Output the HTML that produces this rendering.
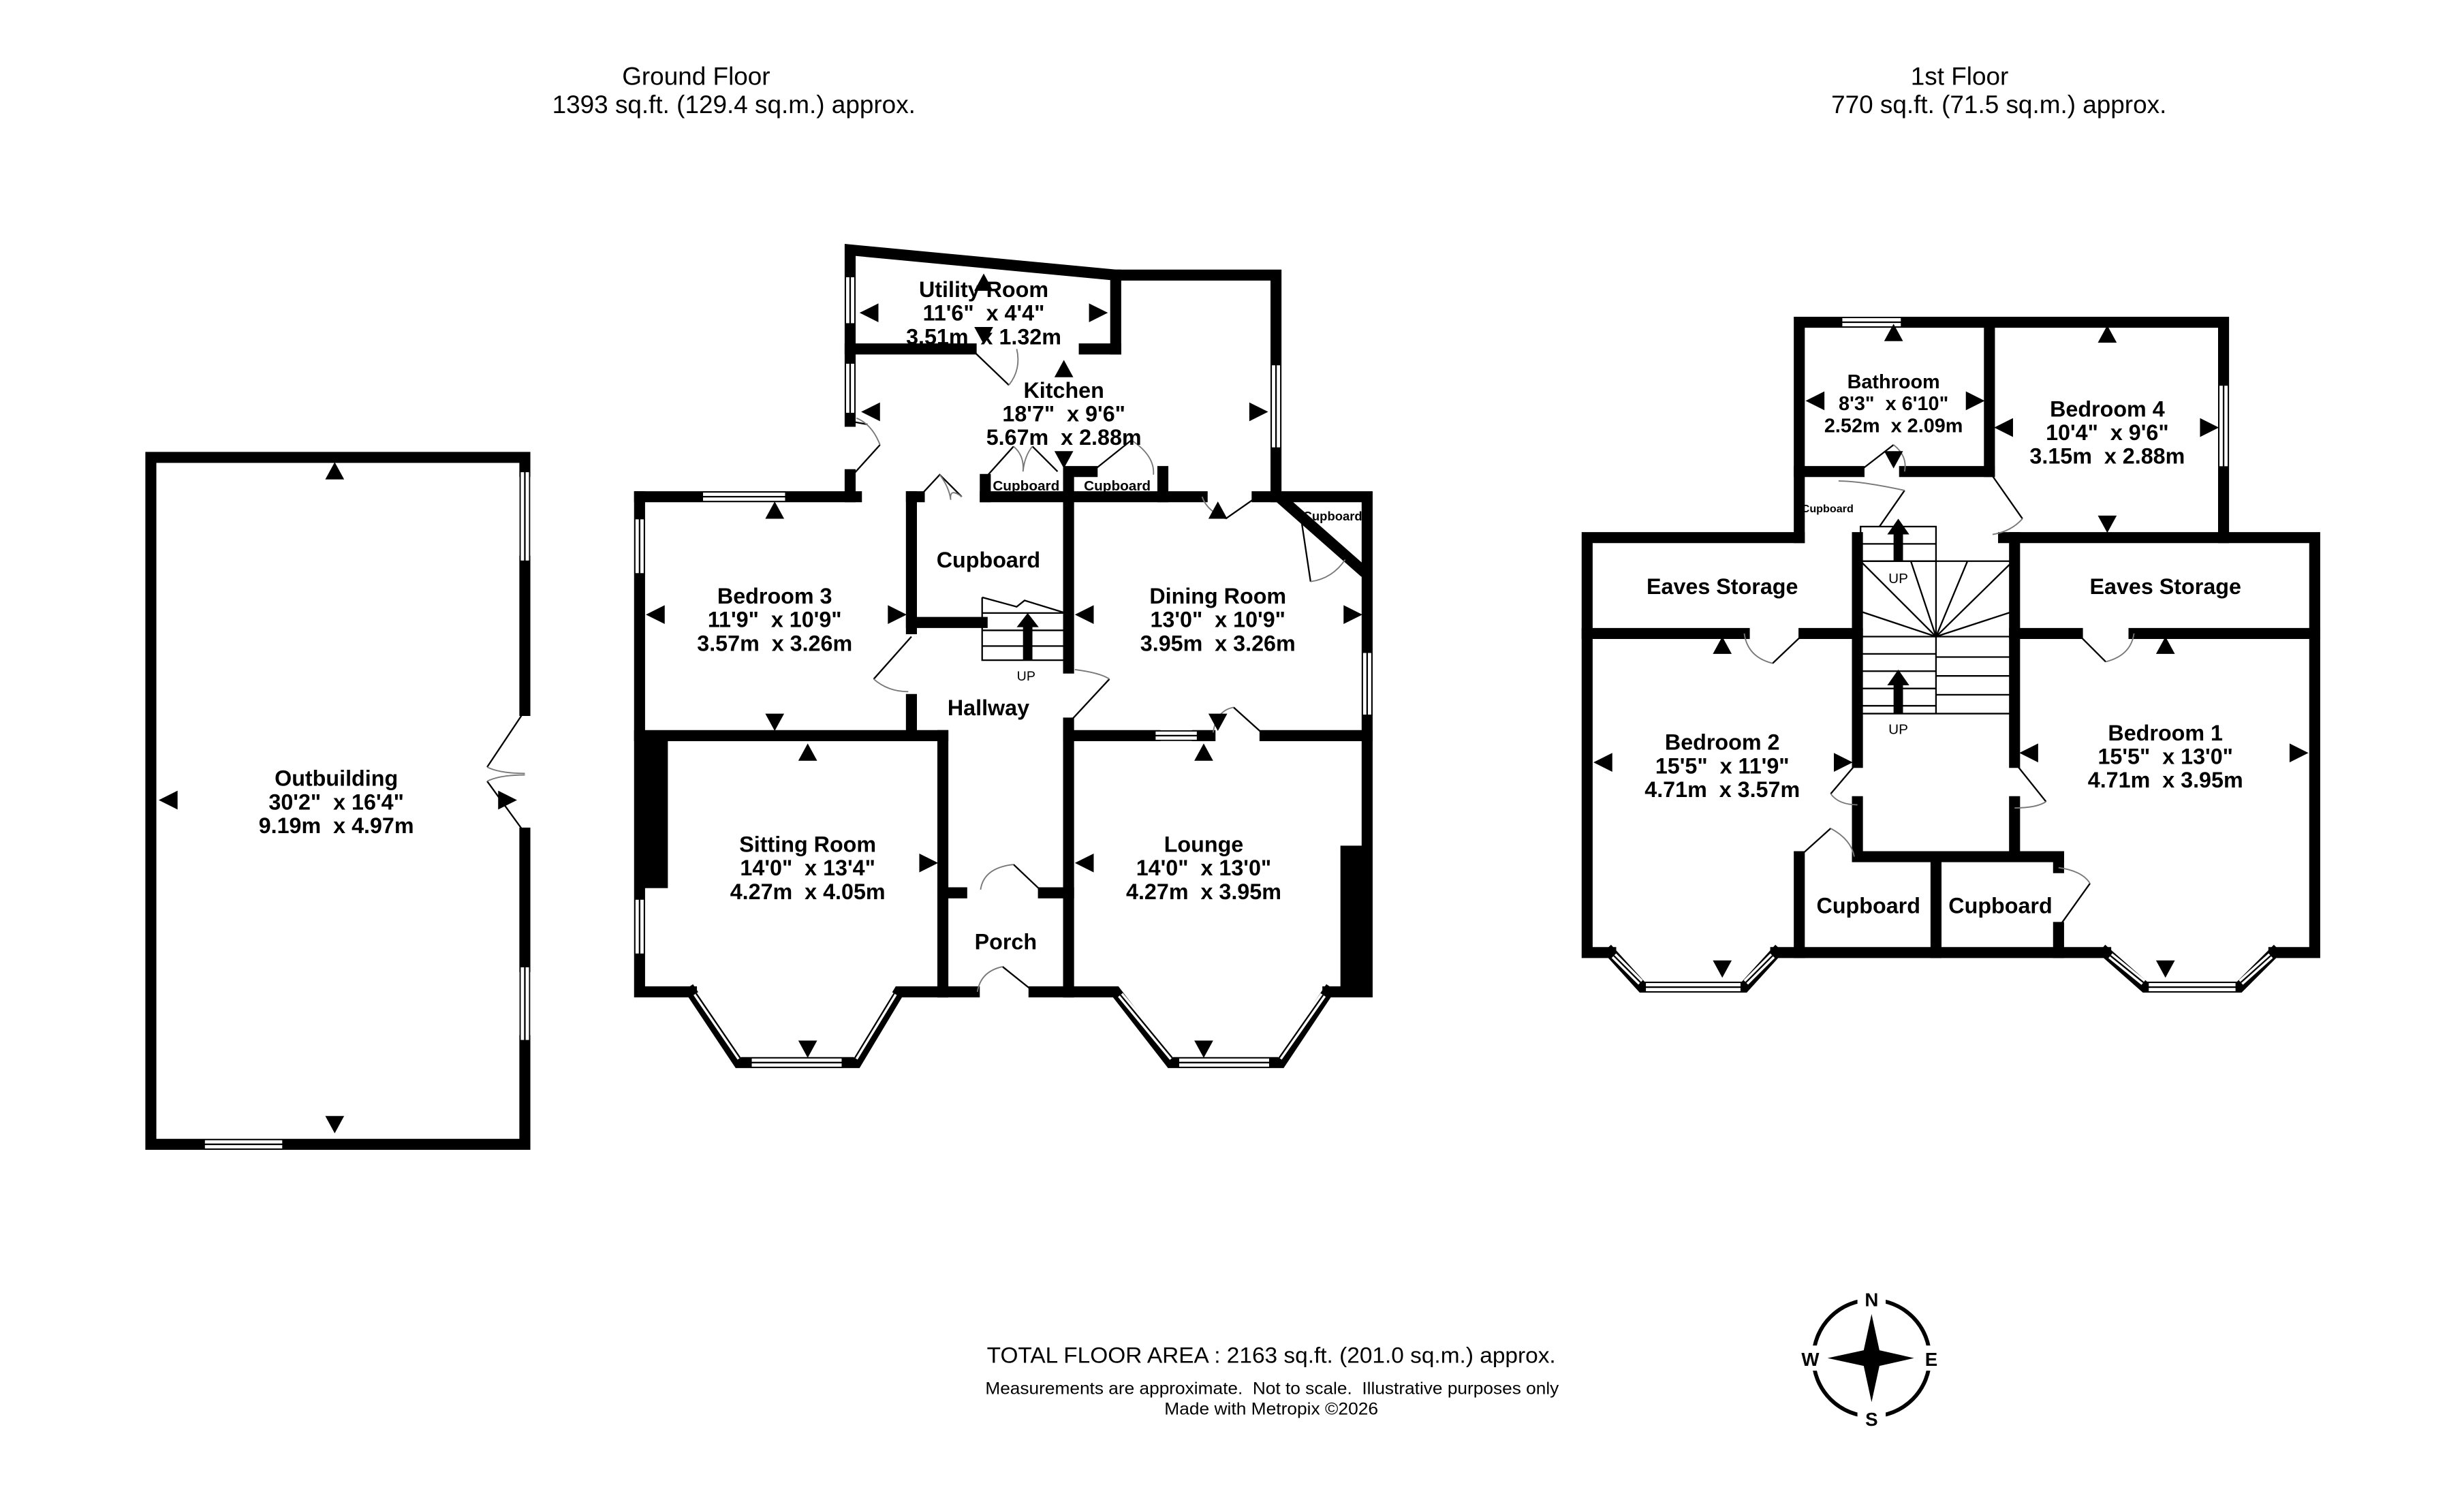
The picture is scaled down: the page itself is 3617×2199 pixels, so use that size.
<!DOCTYPE html>
<html><head><meta charset="utf-8"><style>
html,body{margin:0;padding:0;background:#fff;}
svg{display:block;}
text{font-family:"Liberation Sans",sans-serif;fill:#000;white-space:pre;}
.r{font-weight:bold;font-size:14px;text-anchor:middle;}
.s{font-weight:bold;font-size:9px;text-anchor:middle;}
.w{stroke:#000;stroke-width:7;fill:none;stroke-linecap:square;}
.t{stroke:#000;stroke-width:1;fill:none;}
.a{stroke:#777;stroke-width:0.8;fill:none;}
.win{fill:#fff;stroke:#000;stroke-width:0.8;}
</style></head><body>
<svg width="3617" height="2199" viewBox="0 0 1568 953" preserveAspectRatio="none" xmlns="http://www.w3.org/2000/svg" xml:space="preserve">
<rect width="1568" height="953" fill="#fff"/>
<g font-size="16" text-anchor="middle">
<text x="443" y="54">Ground Floor</text>
<text x="467" y="72">1393 sq.ft. (129.4 sq.m.) approx.</text>
<text x="1247" y="54">1st Floor</text>
<text x="1272" y="72">770 sq.ft. (71.5 sq.m.) approx.</text>
</g>

<!-- OUTBUILDING -->
<path class="w" d="M334,300 L334,291 L96,291 L96,728 L334,728 L334,662"/>
<line class="w" x1="334" y1="357" x2="334" y2="452"/>
<line class="w" x1="334" y1="530" x2="334" y2="615"/>
<rect class="win" x="331" y="300" width="6" height="57"/><line class="t" x1="334" y1="300" x2="334" y2="357"/>
<rect class="win" x="331" y="615" width="6" height="47"/><line class="t" x1="334" y1="615" x2="334" y2="662"/>
<rect class="win" x="130" y="725" width="50" height="6"/><line class="t" x1="130" y1="728" x2="180" y2="728"/>
<path class="t" d="M334,452 L310,488 M334,530 L310,497"/>
<path class="a" d="M310,488 Q318,492 334,492 M310,497 Q318,493 334,493"/>
<polygon points="207,305 219,305 213,294"/>
<polygon points="207,710 219,710 213,721"/>
<polygon points="101,509 113,503 113,515"/>
<polygon points="329,509 317,503 317,515"/>
<text class="r" x="214" y="500">Outbuilding</text>
<text class="r" x="214" y="515">30'2"  x 16'4"</text>
<text class="r" x="214" y="530">9.19m  x 4.97m</text>

<!-- GROUND FLOOR MAIN -->
<path class="w" d="M541,268 L541,159 L710,175 L812,175 L812,316 L870,316 L870,631 L845,631"/>
<line class="w" x1="541" y1="302" x2="541" y2="316"/>
<line class="w" x1="710" y1="175" x2="710" y2="222"/>
<path class="w" d="M541,222 L618,222 M690,222 L710,222"/>
<rect class="win" x="538" y="176" width="6" height="30"/><line class="t" x1="541" y1="176" x2="541" y2="206"/>
<rect class="win" x="538" y="231" width="6" height="32"/><line class="t" x1="541" y1="231" x2="541" y2="263"/>
<rect class="win" x="809" y="232" width="6" height="53"/><line class="t" x1="812" y1="232" x2="812" y2="285"/>
<path class="t" d="M618,222 L642,245"/><path class="a" d="M642,245 Q650,235 647,222"/>
<path class="t" d="M541,268 L552,270 M560,283 L541,304"/><path class="a" d="M545,266 Q555,270 560,283"/>
<path class="w" d="M407,316 L545,316 M580,316 L585,316 M627,316 L680,316 M680,316 L740,316 M740,316 L765,316 M800,316 L812,316"/>
<path class="w" d="M627,316 L627,305 M740,316 L740,300 M680,316 L680,300 L695,300"/>
<path class="t" d="M585,316 L598,302 L612,316 M627,304 L645,284 M673,300 L657,284 M695,300 L720,280"/>
<path class="a" d="M598,302 Q604,310 605,318 M612,316 Q604,310 605,318 M645,284 Q652,290 651,300 M657,284 Q652,290 651,300 M720,280 Q735,290 734,302"/>
<path class="t" d="M800,316 L780,330"/><path class="a" d="M765,316 Q768,325 780,330"/>
<path class="w" d="M816,318 L866,362"/>
<path class="t" d="M828,330 L834,370"/><path class="a" d="M834,370 Q848,368 856,356"/>
<rect class="win" x="867" y="415" width="6" height="40"/><line class="t" x1="870" y1="415" x2="870" y2="455"/>
<path class="w" d="M407,316 L407,631 L440,631"/>
<rect x="407" y="470" width="18" height="95" fill="#000"/>
<rect class="win" x="404" y="330" width="6" height="35"/><line class="t" x1="407" y1="330" x2="407" y2="365"/>
<rect class="win" x="404" y="572" width="6" height="35"/><line class="t" x1="407" y1="572" x2="407" y2="607"/>
<rect class="win" x="447" y="313" width="53" height="6"/><line class="t" x1="447" y1="316" x2="500" y2="316"/>
<line class="w" x1="407" y1="468" x2="600" y2="468"/>
<line class="w" x1="580" y1="316" x2="580" y2="400"/>
<line class="w" x1="580" y1="445" x2="580" y2="468"/>
<line class="w" x1="580" y1="396" x2="625" y2="396"/>
<path class="t" d="M580,405 L556,432"/><path class="a" d="M556,432 Q565,440 578,440"/>
<line class="w" x1="600" y1="468" x2="600" y2="631"/>
<path class="w" d="M440,631 L470,676 L545,676 L572,631 L600,631"/>
<path d="M443,632 L471,673 M569,632 L544,673" stroke="#fff" stroke-width="4" fill="none"/>
<path d="M443,632 L471,673 M569,632 L544,673" class="t" stroke-width="0.6"/>
<rect class="win" x="478" y="673" width="58" height="6"/><line class="t" x1="478" y1="676" x2="536" y2="676"/>
<path class="w" d="M600,568 L612,568 M664,568 L680,568 M600,631 L620,631 M658,631 L680,631"/>
<path class="t" d="M664,568 L645,550 M658,631 L638,615"/>
<path class="a" d="M645,550 Q626,552 624,566 M638,615 Q624,618 622,631"/>
<line class="w" x1="680" y1="316" x2="680" y2="425"/>
<line class="w" x1="680" y1="460" x2="680" y2="631"/>
<path class="t" d="M680,460 L706,432"/><path class="a" d="M684,426 Q700,428 706,432"/>
<path class="w" d="M680,468 L735,468 M762,468 L770,468 M805,468 L870,468"/>
<rect class="win" x="735" y="465" width="27" height="6"/><line class="t" x1="735" y1="468" x2="762" y2="468"/>
<path class="t" d="M805,468 L785,450"/><path class="a" d="M785,450 Q774,452 772,466"/>
<rect x="853" y="538" width="14" height="90" fill="#000"/>
<path class="w" d="M680,631 L710,631 L745,676 L815,676 L845,631"/>
<path d="M713,633 L746,673 M842,633 L814,673" stroke="#fff" stroke-width="4" fill="none"/>
<path d="M713,633 L746,673 M842,633 L814,673" class="t" stroke-width="0.6"/>
<rect class="win" x="750" y="673" width="58" height="6"/><line class="t" x1="750" y1="676" x2="808" y2="676"/>
<path class="t" d="M625,380 L647,386 L652,382 L678,390 M625,380 L625,420 L678,420 M625,390 L678,390 M625,401 L678,401 M625,411 L678,411"/>
<polygon points="651,420 651,399 647,399 654,390 661,399 657,399 657,420"/>
<text x="653" y="433" font-size="8.5" text-anchor="middle">UP</text>
<g>
<polygon points="620,185 632,185 626,174"/><polygon points="620,208 632,208 626,219"/>
<polygon points="547,199 559,193 559,205"/><polygon points="705,199 693,193 693,205"/>
<polygon points="671,240 683,240 677,229"/><polygon points="671,287 683,287 677,298"/>
<polygon points="548,262 560,256 560,268"/><polygon points="807,262 795,256 795,268"/>
<polygon points="487,330 499,330 493,319"/><polygon points="487,454 499,454 493,465"/>
<polygon points="411,391 423,385 423,397"/><polygon points="577,391 565,385 565,397"/>
<polygon points="508,484 520,484 514,473"/><polygon points="508,662 520,662 514,673"/>
<polygon points="597,549 585,543 585,555"/>
<polygon points="769,330 781,330 775,319"/><polygon points="769,454 781,454 775,465"/>
<polygon points="684,391 696,385 696,397"/><polygon points="867,391 855,385 855,397"/>
<polygon points="760,484 772,484 766,473"/><polygon points="760,662 772,662 766,673"/>
<polygon points="684,549 696,543 696,555"/>
</g>
<text class="r" x="626" y="189">Utility Room</text>
<text class="r" x="626" y="204">11'6"  x 4'4"</text>
<text class="r" x="626" y="219">3.51m  x 1.32m</text>
<text class="r" x="677" y="253">Kitchen</text>
<text class="r" x="677" y="268">18'7"  x 9'6"</text>
<text class="r" x="677" y="283">5.67m  x 2.88m</text>
<text class="s" x="653" y="312">Cupboard</text>
<text class="s" x="711" y="312">Cupboard</text>
<text x="848" y="331" font-size="8" font-weight="bold" text-anchor="middle">Cupboard</text>
<text class="r" x="629" y="361">Cupboard</text>
<text class="r" x="493" y="384">Bedroom 3</text>
<text class="r" x="493" y="399">11'9"  x 10'9"</text>
<text class="r" x="493" y="414">3.57m  x 3.26m</text>
<text class="r" x="775" y="384">Dining Room</text>
<text class="r" x="775" y="399">13'0"  x 10'9"</text>
<text class="r" x="775" y="414">3.95m  x 3.26m</text>
<text class="r" x="629" y="455">Hallway</text>
<text class="r" x="514" y="542">Sitting Room</text>
<text class="r" x="514" y="557">14'0"  x 13'4"</text>
<text class="r" x="514" y="572">4.27m  x 4.05m</text>
<text class="r" x="766" y="542">Lounge</text>
<text class="r" x="766" y="557">14'0"  x 13'0"</text>
<text class="r" x="766" y="572">4.27m  x 3.95m</text>
<text class="r" x="640" y="604">Porch</text>

<!-- FIRST FLOOR -->
<path class="w" d="M1145,342 L1145,205 L1415,205 L1415,342 L1473,342 L1473,606 L1447,606"/>
<path class="w" d="M1145,342 L1010,342 L1010,606 L1025,606"/>
<rect class="win" x="1172" y="202" width="38" height="6"/><line class="t" x1="1172" y1="205" x2="1210" y2="205"/>
<rect class="win" x="1412" y="245" width="6" height="52"/><line class="t" x1="1415" y1="245" x2="1415" y2="297"/>
<line class="w" x1="1266" y1="205" x2="1266" y2="300"/>
<path class="w" d="M1145,300 L1183,300 M1212,300 L1266,300"/>
<path class="w" d="M1275,342 L1415,342"/>
<path class="t" d="M1183,300 L1205,283 M1266,300 L1287,330 M1212,312 L1196,335"/>
<path class="a" d="M1205,283 Q1214,290 1212,300 M1287,330 Q1280,338 1268,340 M1170,306 Q1184,306 1212,312"/>
<path class="w" d="M1010,403 L1110,403 M1148,403 L1182,403 M1282,403 L1322,403 M1358,403 L1473,403"/>
<path class="t" d="M1148,403 L1128,422 M1322,403 L1340,421"/>
<path class="a" d="M1110,403 Q1112,418 1128,422 M1358,403 Q1356,417 1340,421"/>
<path class="w" d="M1182,342 L1182,485 M1182,510 L1182,545 L1310,545 M1282,342 L1282,485 M1282,510 L1282,545"/>
<path class="t" d="M1182,485 L1165,505 M1282,485 L1302,510"/>
<path class="a" d="M1165,505 Q1170,512 1182,512 M1302,510 Q1296,514 1282,514"/>
<path class="w" d="M1145,545 L1145,606 M1232,545 L1232,606 M1310,545 L1310,552 M1310,590 L1310,606"/>
<path class="t" d="M1145,545 L1165,527 M1310,590 L1330,562"/>
<path class="a" d="M1165,527 Q1178,534 1180,545 M1310,552 Q1325,554 1330,562"/>
<path class="w" d="M1130,606 L1340,606"/>
<path class="w" d="M1025,606 L1045,628 L1110,628 L1130,606"/>
<path class="w" d="M1340,606 L1365,628 L1425,628 L1447,606"/>
<path d="M1027,608 L1044,625 M1128,608 L1111,625 M1343,608 L1364,625 M1445,608 L1426,625" stroke="#fff" stroke-width="4" fill="none"/>
<path d="M1027,608 L1044,625 M1128,608 L1111,625 M1343,608 L1364,625 M1445,608 L1426,625" class="t" stroke-width="0.6"/>
<rect class="win" x="1047" y="625" width="61" height="6"/><line class="t" x1="1047" y1="628" x2="1108" y2="628"/>
<rect class="win" x="1367" y="625" width="56" height="6"/><line class="t" x1="1367" y1="628" x2="1423" y2="628"/>
<g class="t">
<rect x="1184" y="335" width="48" height="22"/><line x1="1184" y1="346" x2="1232" y2="346"/>
<line x1="1184" y1="357" x2="1281" y2="357"/>
<line x1="1232" y1="357" x2="1232" y2="454"/>
<path d="M1184,357 L1232,405 M1216,357 L1232,405 M1252,357 L1232,405 M1281,357 L1232,405 M1184,389 L1232,405 M1281,389 L1232,405"/>
<line x1="1184" y1="405" x2="1281" y2="405"/>
<path d="M1184,416 L1232,416 M1184,427 L1232,427 M1184,438 L1232,438 M1184,449 L1232,449 M1184,454 L1232,454"/>
<path d="M1232,418 L1281,418 M1232,430 L1281,430 M1232,442 L1281,442 M1232,454 L1281,454"/>
</g>
<polygon points="1205,357 1205,340 1201,340 1208,330 1215,340 1211,340 1211,357"/>
<polygon points="1205,454 1205,436 1201,436 1208,426 1215,436 1211,436 1211,454"/>
<text x="1208" y="371" font-size="9" text-anchor="middle">UP</text>
<text x="1208" y="467" font-size="9" text-anchor="middle">UP</text>
<g>
<polygon points="1199,217 1211,217 1205,206"/><polygon points="1199,287 1211,287 1205,298"/>
<polygon points="1149,255 1161,249 1161,261"/><polygon points="1263,255 1251,249 1251,261"/>
<polygon points="1335,218 1347,218 1341,207"/><polygon points="1335,328 1347,328 1341,339"/>
<polygon points="1269,272 1281,266 1281,278"/><polygon points="1412,272 1400,266 1400,278"/>
<polygon points="1090,416 1102,416 1096,405"/><polygon points="1090,611 1102,611 1096,622"/>
<polygon points="1014,485 1026,479 1026,491"/><polygon points="1179,485 1167,479 1167,491"/>
<polygon points="1372,416 1384,416 1378,405"/><polygon points="1372,611 1384,611 1378,622"/>
<polygon points="1285,479 1297,473 1297,485"/><polygon points="1469,479 1457,473 1457,485"/>
</g>
<text class="s" x="1205" y="247" style="font-size:12.5px">Bathroom</text>
<text class="s" x="1205" y="261" style="font-size:12.5px">8'3"  x 6'10"</text>
<text class="s" x="1205" y="275" style="font-size:12.5px">2.52m  x 2.09m</text>
<text class="r" x="1341" y="265">Bedroom 4</text>
<text class="r" x="1341" y="280">10'4"  x 9'6"</text>
<text class="r" x="1341" y="295">3.15m  x 2.88m</text>
<text x="1163" y="326" font-size="7" font-weight="bold" text-anchor="middle">Cupboard</text>
<text class="r" x="1096" y="378">Eaves Storage</text>
<text class="r" x="1378" y="378">Eaves Storage</text>
<text class="r" x="1096" y="477">Bedroom 2</text>
<text class="r" x="1096" y="492">15'5"  x 11'9"</text>
<text class="r" x="1096" y="507">4.71m  x 3.57m</text>
<text class="r" x="1378" y="471">Bedroom 1</text>
<text class="r" x="1378" y="486">15'5"  x 13'0"</text>
<text class="r" x="1378" y="501">4.71m  x 3.95m</text>
<text class="r" x="1189" y="581">Cupboard</text>
<text class="r" x="1273" y="581">Cupboard</text>

<text x="628" y="867" font-size="14" textLength="362" lengthAdjust="spacingAndGlyphs">TOTAL FLOOR AREA : 2163 sq.ft. (201.0 sq.m.) approx.</text>
<text x="627" y="887" font-size="11" textLength="365" lengthAdjust="spacingAndGlyphs">Measurements are approximate.  Not to scale.  Illustrative purposes only</text>
<text x="741" y="900" font-size="11" textLength="136" lengthAdjust="spacingAndGlyphs">Made with Metropix ©2026</text>

<circle cx="1191" cy="864" r="37" fill="none" stroke="#000" stroke-width="2.5"/>
<rect x="1182" y="819" width="18" height="12" fill="#fff"/>
<rect x="1182" y="896" width="18" height="12" fill="#fff"/>
<rect x="1145" y="856" width="14" height="16" fill="#fff"/>
<rect x="1222" y="856" width="14" height="16" fill="#fff"/>
<polygon points="1191,836 1196,859 1218,864 1196,869 1191,892 1186,869 1163,864 1186,859"/>
<g font-weight="bold" font-size="12" text-anchor="middle">
<text x="1191" y="831">N</text><text x="1191" y="907">S</text>
<text x="1152" y="869">W</text><text x="1229" y="869">E</text>
</g>
</svg>
</body></html>
